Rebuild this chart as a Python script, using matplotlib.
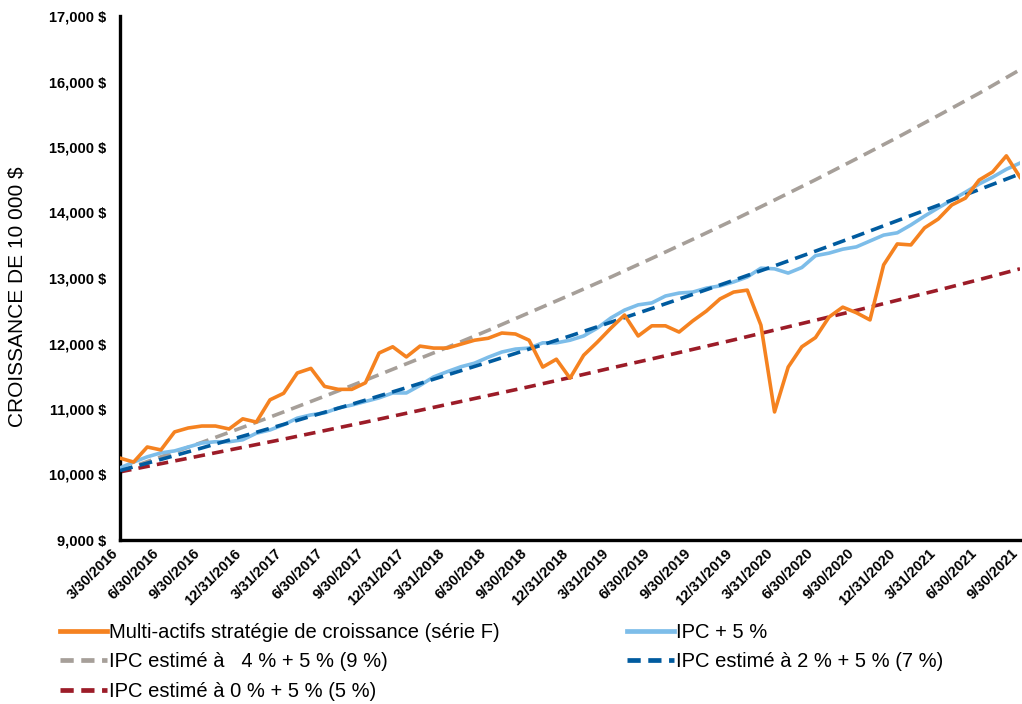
import numpy as np
import matplotlib
matplotlib.use('Agg')
import matplotlib.pyplot as plt
import matplotlib.transforms as mtransforms
from matplotlib.lines import Line2D

# tick labels (every quarter, 3/30/2016 .. 9/30/2021)
tick_labels = ['3/30/2016', '6/30/2016', '9/30/2016', '12/31/2016',
               '3/31/2017', '6/30/2017', '9/30/2017', '12/31/2017',
               '3/31/2018', '6/30/2018', '9/30/2018', '12/31/2018',
               '3/31/2019', '6/30/2019', '9/30/2019', '12/31/2019',
               '3/31/2020', '6/30/2020', '9/30/2020', '12/31/2020',
               '3/31/2021', '6/30/2021', '9/30/2021']

# monthly values (67 month-ends)
fund = [10250, 10190, 10420, 10375, 10650, 10710, 10740, 10740, 10695, 10850,
        10800, 11140, 11240, 11550, 11620, 11345, 11300, 11300, 11400, 11855,
        11950, 11795, 11960, 11930, 11930, 11990, 12050, 12080, 12160, 12145,
        12050, 11640, 11760, 11470, 11820, 12020, 12235, 12435, 12115, 12270,
        12270, 12175, 12345, 12495, 12680, 12785, 12815, 12280, 10955, 11640,
        11950, 12090, 12405, 12555, 12470, 12360, 13200, 13520, 13505, 13765,
        13900, 14115, 14220, 14495, 14620, 14865, 14540]

ipc5 = [10100, 10190, 10270, 10330, 10360, 10420, 10480, 10500, 10500, 10530,
        10630, 10680, 10760, 10860, 10910, 10940, 11015, 11060, 11115, 11170,
        11245, 11245, 11360, 11490, 11570, 11645, 11700, 11790, 11870, 11915,
        11930, 12010, 12010, 12050, 12115, 12235, 12390, 12510, 12590, 12620,
        12725, 12770, 12785, 12845, 12880, 12940, 13015, 13150, 13140, 13075,
        13160, 13340, 13380, 13440, 13475, 13565, 13655, 13690, 13810, 13945,
        14070, 14190, 14310, 14435, 14540, 14660, 14755]

# quarterly values of the estimated paths
est9 = [10050, 10270, 10490, 10720, 10955, 11195, 11440, 11690, 11940, 12200,
        12470, 12740, 13015, 13300, 13590, 13885, 14190, 14500, 14820, 15145,
        15480, 15820, 16180]
est7 = [10060, 10230, 10405, 10585, 10765, 10950, 11135, 11325, 11520, 11715,
        11915, 12115, 12325, 12535, 12750, 12965, 13185, 13410, 13640, 13875,
        14110, 14350, 14590]
est5 = [10040, 10165, 10290, 10415, 10540, 10670, 10800, 10935, 11070, 11205,
        11340, 11480, 11625, 11765, 11910, 12055, 12205, 12355, 12505, 12660,
        12815, 12975, 13140]

labels = ['Multi-actifs stratégie de croissance (série F)',
          'IPC + 5 %',
          'IPC estimé à   4 % + 5 % (9 %)',
          'IPC estimé à 2 % + 5 % (7 %)',
          'IPC estimé à 0 % + 5 % (5 %)']

c_orange = '#F58220'
c_light = '#7DBDE9'
c_gray = '#A69F99'
c_blue = '#005B9F'
c_red = '#9C1C28'


def figure():
    plt.rcParams['font.family'] = ['Liberation Sans', 'DejaVu Sans']

    fig = plt.figure(figsize=(10.22, 7.04), dpi=100)
    ax = fig.add_axes([120 / 1022, 1 - 540 / 704, 900 / 1022, 524 / 704])

    months = np.arange(len(fund))
    quarters = np.arange(len(tick_labels)) * 3

    lw = 2.6
    dash = (3.6, 2.0)
    ax.plot(quarters, est9, color=c_gray, lw=lw, dashes=dash, zorder=2)
    ax.plot(quarters, est5, color=c_red, lw=lw, dashes=(3.2, 2.0), zorder=2)
    ax.plot(months, ipc5, color=c_light, lw=lw, zorder=3)
    ax.plot(quarters, est7, color=c_blue, lw=lw, dashes=dash, zorder=4)
    ax.plot(months, fund, color=c_orange, lw=lw, zorder=5)

    # axes
    ax.set_xlim(0, 66)
    ax.set_ylim(9000, 17000)
    ax.set_yticks(np.arange(9000, 17001, 1000))
    ax.set_yticklabels([f'{v:,} $' for v in range(9000, 17001, 1000)],
                       fontsize=10.5, fontweight='bold')
    ax.set_xticks(quarters)
    ax.set_xticklabels(tick_labels, rotation=45, ha='right', va='center',
                       rotation_mode='anchor', fontsize=10.5, fontweight='bold')
    ax.tick_params(axis='both', length=0)
    ax.tick_params(axis='y', pad=10)
    ax.tick_params(axis='x', pad=8)
    shift = mtransforms.ScaledTranslation(-4 / 100, 0, fig.dpi_scale_trans)
    for t in ax.get_xticklabels():
        t.set_transform(t.get_transform() + shift)
    for s in ['top', 'right']:
        ax.spines[s].set_visible(False)
    for s in ['left', 'bottom']:
        ax.spines[s].set_linewidth(2.4)
        ax.spines[s].set_color('black')

    fig.text(17 / 1022, 1 - 297 / 704, 'CROISSANCE DE 10 000 $', rotation=90,
             ha='center', va='center', fontsize=15)

    # legend, two columns
    def h(color, dashes=None):
        if dashes is None:
            return Line2D([], [], color=color, lw=3.4)
        return Line2D([], [], color=color, lw=3.4, dashes=dashes)

    leg_opts = dict(frameon=False, fontsize=14.5, handlelength=2.35,
                    handletextpad=0.08, borderpad=0, borderaxespad=0,
                    labelspacing=0.52, loc='upper left')
    fig.legend([h(c_orange), h(c_gray, (2.8, 1.6)), h(c_red, (2.8, 1.6))],
               [labels[0], labels[2], labels[4]],
               bbox_to_anchor=(60 / 1022, 1 - 623 / 704), **leg_opts)
    fig.legend([h(c_light), h(c_blue, (2.8, 1.6))],
               [labels[1], labels[3]],
               bbox_to_anchor=(627 / 1022, 1 - 623 / 704), **leg_opts)

    plt.savefig('out.png', dpi=100)


figure()
